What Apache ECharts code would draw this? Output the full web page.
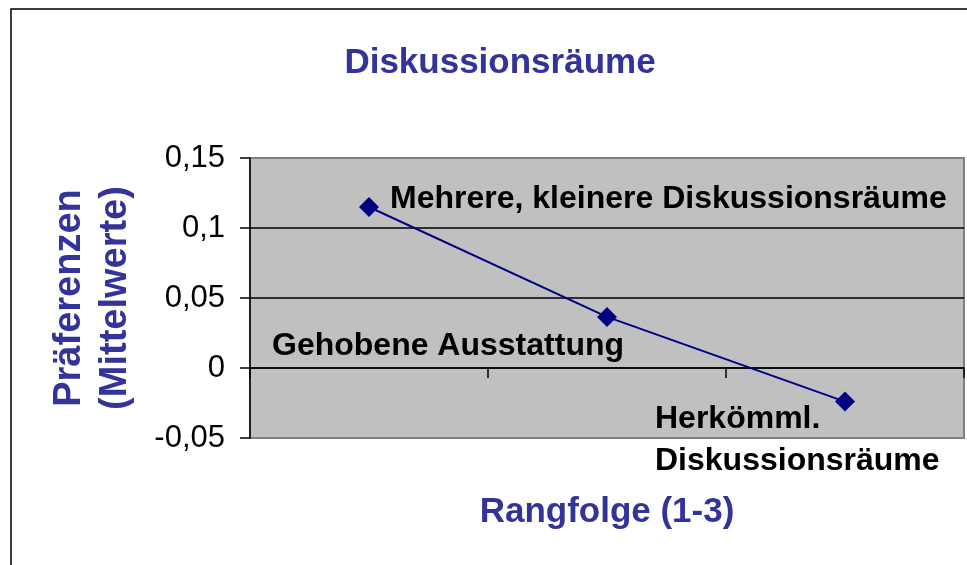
<!DOCTYPE html>
<html>
<head>
<meta charset="utf-8">
<script src="https://cdn.jsdelivr.net/npm/echarts@6/dist/echarts.min.js"></script>
<style>
  html, body { margin: 0; padding: 0; background: #fff; }
  #main { width: 967px; height: 565px; }
</style>
</head>
<body>
<div id="main"></div>
<script>
// Daten
var categories = ['Mehrere, kleinere Diskussionsräume', 'Gehobene Ausstattung', 'Herkömml.\nDiskussionsräume'];
var values = [0.115, 0.0365, -0.024];
// Label-Versatz je Punkt
var labelOffsets = [[0, -8], [-335, 29], [-190, 39]];

var chart = echarts.init(document.getElementById('main'));
var blue = '#333399';

var seriesData = values.map(function (v, i) {
  return {
    value: v,
    label: i === 0
      ? { position: 'right', distance: 11, verticalAlign: 'middle', offset: labelOffsets[i] }
      : { position: 'inside', align: 'left', verticalAlign: 'middle', offset: labelOffsets[i] }
  };
});

var option = {
  backgroundColor: '#fff',
  animation: false,
  title: {
    text: 'Diskussionsräume',
    left: 495, top: 41, textAlign: 'center',
    textStyle: { color: blue, fontFamily: 'Liberation Sans', fontWeight: 'bold', fontSize: 35 }
  },
  graphic: [{
    type: 'rect', silent: true,
    shape: { x: 11, y: 9, width: 1000, height: 600 },
    style: { fill: null, stroke: '#000', lineWidth: 1.5 }
  }],
  grid: {
    left: 250, right: 3, top: 158, bottom: 127,
    containLabel: false,
    outerBoundsMode: 'none',
    show: true, backgroundColor: '#c0c0c0', borderColor: '#808080', borderWidth: 2
  },
  xAxis: {
    type: 'category',
    data: categories,
    boundaryGap: true,
    name: 'Rangfolge (1-3)',
    nameLocation: 'middle',
    nameGap: 57,
    nameTextStyle: { color: blue, fontFamily: 'Liberation Sans', fontWeight: 'bold', fontSize: 35 },
    axisLine: { onZero: true, lineStyle: { color: '#000', width: 1.5 } },
    axisTick: { show: true, interval: 0, length: 10, lineStyle: { color: '#000', width: 1.5 } },
    axisLabel: { show: false, interval: 0 },
    splitLine: { show: false }
  },
  yAxis: {
    type: 'value',
    min: -0.05, max: 0.15, interval: 0.05,
    name: 'Präferenzen\n(Mittelwerte)',
    nameLocation: 'middle',
    nameRotate: 90,
    nameGap: 111,
    nameTextStyle: { color: blue, fontFamily: 'Liberation Sans', fontWeight: 'bold', fontSize: 38, lineHeight: 46 },
    axisLine: { show: true, lineStyle: { color: '#000', width: 1.5 } },
    axisTick: { show: true, length: 10, lineStyle: { color: '#000', width: 1.5 } },
    axisLabel: {
      color: '#000', fontFamily: 'Liberation Sans', fontSize: 31, margin: 25,
      formatter: function (v) { return String(+v.toFixed(2)).replace('.', ','); }
    },
    splitLine: { show: true, lineStyle: { color: ['#808080', '#000', '#000', '#000', '#808080'], width: 1.5 } }
  },
  series: [{
    type: 'line',
    data: seriesData,
    symbol: 'diamond',
    symbolSize: 20,
    itemStyle: { color: '#000080' },
    lineStyle: { color: '#000080', width: 2 },
    label: {
      show: true,
      formatter: '{b}',
      color: '#000',
      fontFamily: 'Liberation Sans',
      fontWeight: 'bold',
      fontSize: 32,
      lineHeight: 42
    }
  }]
};

chart.setOption(option);
</script>
</body>
</html>
